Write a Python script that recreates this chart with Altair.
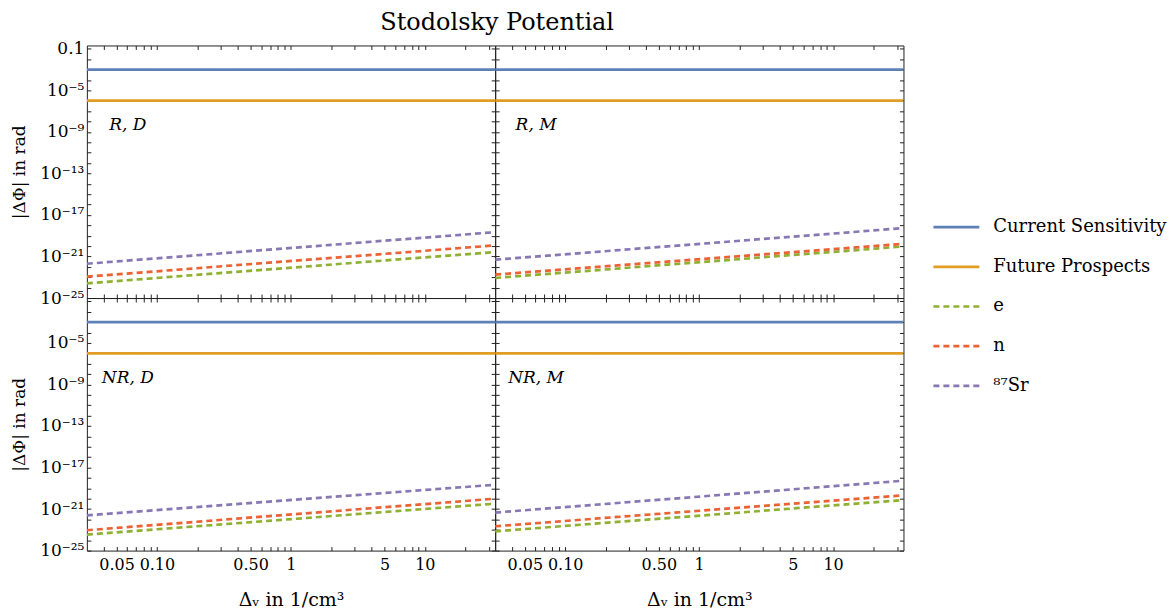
import altair as alt
import pandas as pd

# ---------------- data ----------------
panel_names = ["R, D", "R, M", "NR, D", "NR, M"]
x_ends = [0.03, 33.5]

series_names = ["Current Sensitivity", "Future Prospects", "e", "n", "87Sr"]
legend_labels = ["Current Sensitivity", "Future Prospects", "e", "n", "⁸⁷Sr"]
series_colors = ["#5E81B5", "#E19C24", "#8FB032", "#EB6235", "#8778B3"]
series_dashes = [[1, 0], [1, 0], [6, 4], [6, 4], [6, 4]]

current_sensitivity = [1e-3, 1e-3]
future_prospects = [1e-6, 1e-6]

e_values = {"R, D": [2.6e-24, 2.7e-21], "R, M": [8.5e-24, 9.3e-21],
            "NR, D": [3.5e-24, 3.3e-21], "NR, M": [7.2e-24, 7.4e-21]}
n_values = {"R, D": [1.15e-23, 1.17e-20], "R, M": [1.8e-23, 1.66e-20],
            "NR, D": [9.1e-24, 1.0e-20], "NR, M": [2.2e-23, 2.1e-20]}
sr_values = {"R, D": [2.0e-22, 2.2e-19], "R, M": [4.9e-22, 5.4e-19],
             "NR, D": [2.5e-22, 2.2e-19], "NR, M": [4.6e-22, 5.4e-19]}

x_tick_values = [0.04, 0.05, 0.06, 0.07, 0.08, 0.09,
                 0.1, 0.2, 0.3, 0.4, 0.5, 0.6, 0.7, 0.8, 0.9,
                 1, 2, 3, 4, 5, 6, 7, 8, 9, 10, 20, 30]
x_tick_labels = {0.05: "0.05", 0.1: "0.10", 0.5: "0.50", 1: "1", 5: "5", 10: "10"}
y_tick_values = [10.0 ** -k for k in range(1, 26)]
y_tick_labels_top = {-1: "0.1", -5: "10⁻⁵", -9: "10⁻⁹", -13: "10⁻¹³",
                     -17: "10⁻¹⁷", -21: "10⁻²¹", -25: "10⁻²⁵"}
y_tick_labels_bottom = {-5: "10⁻⁵", -9: "10⁻⁹", -13: "10⁻¹³",
                        -17: "10⁻¹⁷", -21: "10⁻²¹", -25: "10⁻²⁵"}
title_text = "Stodolsky Potential"

# ---------------- table ----------------
rows = []
for p in panel_names:
    per_series = {
        "Current Sensitivity": current_sensitivity,
        "Future Prospects": future_prospects,
        "e": e_values[p],
        "n": n_values[p],
        "87Sr": sr_values[p],
    }
    for s in series_names:
        for xv, yv in zip(x_ends, per_series[s]):
            rows.append({"panel": p, "series": s, "x": xv, "y": yv})
df = pd.DataFrame(rows)

FONT = "DejaVu Serif"
TICK = 4
PW, PH = 409, 253

x_expr = " : ".join(
    f"abs(datum.value - {v}) < {v * 1e-3} ? '{t}'" for v, t in x_tick_labels.items()
) + " : ''"


def y_expr(labels):
    return " : ".join(
        f"abs(log(datum.value) / LN10 - ({k})) < 0.01 ? '{t}'" for k, t in labels.items()
    ) + " : ''"


xscale = alt.Scale(type="log", domain=x_ends, nice=False)
yscale = alt.Scale(type="log", domain=[1e-25, 0.21], nice=False)

color_enc = alt.Color("series:N", scale=alt.Scale(domain=series_names, range=series_colors), legend=None)
dash_enc = alt.StrokeDash("series:N", scale=alt.Scale(domain=series_names, range=series_dashes), legend=None)


def x_axis(orient, labels, title):
    kw = dict(orient=orient, values=x_tick_values, offset=-TICK, tickSize=TICK,
              tickColor="#222", tickWidth=1, domain=False, grid=False,
              labelOverlap=False, labelFlush=False, labels=labels)
    if labels:
        kw.update(labelExpr=x_expr, labelPadding=6, labelFontSize=16,
                  labelFont=FONT, labelColor="#000")
    if title:
        kw.update(title=title, titleFont=FONT, titleFontSize=19, titleFontWeight="normal",
                  titleColor="#000", titlePadding=18)
    else:
        kw.update(title=None)
    return alt.Axis(**kw)


def y_axis(orient, labels, title, top_row=True):
    kw = dict(orient=orient, values=y_tick_values, offset=-TICK, tickSize=TICK,
              tickColor="#222", tickWidth=1, domain=False, grid=False,
              labelOverlap=False, labelFlush=False, labels=labels)
    if labels:
        kw.update(labelExpr=y_expr(y_tick_labels_top if top_row else y_tick_labels_bottom),
                  labelPadding=3, labelFontSize=17, labelFont=FONT, labelColor="#000")
    if title:
        kw.update(title=title, titleFont=FONT, titleFontSize=17, titleFontWeight="normal",
                  titleColor="#000", titlePadding=11)
    else:
        kw.update(title=None)
    return alt.Axis(**kw)


leg_df = pd.DataFrame({"series": series_names, "label": legend_labels})


def panel(name, bottom_row, left_col):
    d = df[df["panel"] == name]
    lines = alt.Chart(d).mark_line(strokeWidth=2.7, clip=True).encode(
        x=alt.X("x:Q", scale=xscale,
                axis=x_axis("bottom", bottom_row, "Δᵥ in 1/cm³" if bottom_row else None)),
        y=alt.Y("y:Q", scale=yscale,
                axis=y_axis("left", left_col, "|ΔΦ| in rad" if left_col else None,
                            top_row=not bottom_row)),
        color=color_enc,
        strokeDash=dash_enc,
    )
    ghost = alt.Chart(d).mark_line(strokeOpacity=0).encode(
        x=alt.X("x:Q", scale=xscale, axis=x_axis("top", False, None)),
        y=alt.Y("y:Q", scale=yscale, axis=y_axis("right", False, None)),
    )
    label = alt.Chart(pd.DataFrame({"label": [name]})).mark_text(
        font=FONT, fontStyle="italic", fontSize=17, align="center", baseline="middle", color="#000"
    ).encode(x=alt.value(41), y=alt.value(80), text="label:N")
    layers = [lines, ghost, label]
    if name == panel_names[0]:
        layers.append(
            alt.Chart(pd.DataFrame({"t": [title_text]})).mark_text(
                font=FONT, fontSize=24, align="center", baseline="alphabetic", color="#000"
            ).encode(x=alt.value(PW + 2), y=alt.value(-15), text="t:N")
        )
    if name == panel_names[1]:
        ypos = alt.Y("series:N", scale=alt.Scale(type="point", domain=series_names,
                                                 range=[182, 341], padding=0), axis=None)
        layers.append(alt.Chart(leg_df).mark_rule(strokeWidth=2.7).encode(
            x=alt.value(PW + 30), x2=alt.value(PW + 76), y=ypos,
            color=color_enc, strokeDash=dash_enc))
        layers.append(alt.Chart(leg_df).mark_text(
            align="left", baseline="middle", font=FONT, fontSize=18, color="#000"
        ).encode(x=alt.value(PW + 90), y=ypos, text="label:N"))
    return alt.layer(*layers).resolve_axis(
        x="independent", y="independent"
    ).resolve_scale(y="independent").properties(width=PW, height=PH)


chart = alt.concat(
    panel("R, D", False, True), panel("R, M", False, False),
    panel("NR, D", True, True), panel("NR, M", True, False),
    columns=2, spacing=0, bounds="flush",
).properties(
    padding={"left": 2, "top": 2, "right": 0, "bottom": 0}
).configure_view(stroke="#222", strokeWidth=1)

chart.save("out.html", embed_options={"renderer": "svg", "actions": False})
